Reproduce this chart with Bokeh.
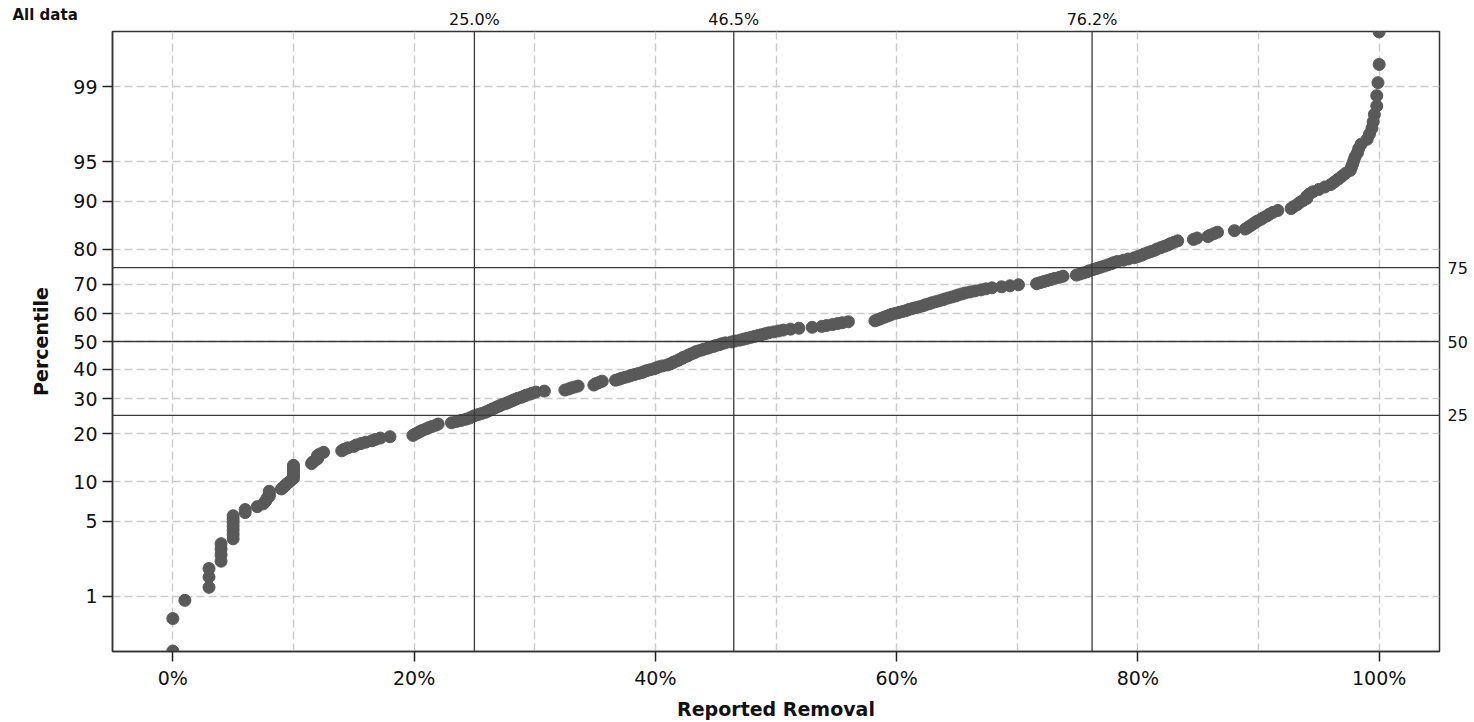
from statistics import NormalDist
from bokeh.plotting import figure
from bokeh.models import Range1d, FixedTicker, LinearAxis, Title, Span, ColumnDataSource
from bokeh.embed import file_html
from bokeh.resources import INLINE

# ---- data (sorted reported removal, %) ----
removal = [
    0, 0, 1, 3, 3, 3, 4, 4, 4, 4,
    5, 5, 5, 5, 5, 5, 5, 6, 6, 7,
    7.5, 7.7, 7.8, 8, 8, 8, 9.0, 9.2, 9.4, 9.6,
    9.8, 10, 10, 10, 10, 10, 10, 10, 10, 11.5,
    11.6, 11.8, 12, 12, 12, 12.2, 12.5, 14.0, 14.2, 14.5,
    15.0, 15.2, 15.6, 16.0, 16.5, 16.8, 17.2, 18.0, 19.9, 20.1,
    20.3, 20.5, 20.7, 21.0, 21.2, 21.5, 21.8, 22.0, 23.1, 23.5,
    23.9, 24.3, 24.6, 24.8, 25.0, 25.3, 25.6, 25.9, 26.1, 26.3,
    26.5, 26.7, 26.9, 27.1, 27.3, 27.6, 27.8, 28.0, 28.2, 28.4,
    28.6, 28.9, 29.1, 29.3, 29.6, 29.8, 30.1, 30.8, 32.5, 32.8,
    33.0, 33.3, 33.6, 34.9, 35.0, 35.2, 35.4, 35.6, 36.7, 37.0,
    37.2, 37.5, 37.8, 38.0, 38.3, 38.6, 38.9, 39.1, 39.3, 39.6,
    39.9, 40.1, 40.3, 40.6, 41.0, 41.2, 41.4, 41.5, 41.7, 41.9,
    42.0, 42.2, 42.3, 42.5, 42.7, 42.8, 43.0, 43.2, 43.3, 43.5,
    43.8, 44.0, 44.3, 44.5, 44.8, 45.0, 45.3, 45.5, 45.8, 46.3,
    46.6, 47.0, 47.3, 47.6, 47.9, 48.2, 48.5, 48.8, 49.1, 49.4,
    49.8, 50.2, 50.6, 51.2, 51.9, 53.0, 53.8, 54.2, 54.7, 55.1,
    55.5, 56.0, 58.2, 58.4, 58.6, 58.8, 59.0, 59.2, 59.4, 59.6,
    59.9, 60.2, 60.5, 60.8, 61.0, 61.3, 61.6, 61.9, 62.2, 62.4,
    62.7, 62.9, 63.2, 63.5, 63.8, 64.0, 64.3, 64.6, 64.9, 65.1,
    65.4, 65.7, 66.1, 66.5, 67.0, 67.4, 67.9, 68.7, 69.4, 70.1,
    71.6, 71.9, 72.2, 72.5, 72.8, 73.1, 73.5, 73.8, 74.9, 75.2,
    75.5, 75.8, 76.0, 76.3, 76.6, 76.9, 77.2, 77.5, 77.8, 78.0,
    78.3, 78.8, 79.2, 79.7, 80.0, 80.3, 80.5, 80.8, 81.1, 81.4,
    81.6, 81.9, 82.2, 82.5, 82.7, 83.0, 83.3, 84.6, 84.9, 85.8,
    86.0, 86.3, 86.6, 88.0, 88.9, 89.1, 89.3, 89.5, 89.7, 89.9,
    90.2, 90.4, 90.7, 90.9, 91.2, 91.6, 92.7, 92.9, 93.2, 93.4,
    93.7, 94.0, 94.0, 94.2, 94.5, 95.0, 95.5, 96.0, 96.3, 96.6,
    96.9, 97.2, 97.6, 97.7, 97.8, 97.9, 98.0, 98.2, 98.3, 98.5,
    99.0, 99.2, 99.4, 99.5, 99.6, 99.8, 99.8, 99.9, 100, 100,
]

y_tick_pcts = [1, 5, 10, 20, 30, 40, 50, 60, 70, 80, 90, 95, 99]
x_tick_pcts = [0, 20, 40, 60, 80, 100]
x_grid_pcts = [0, 10, 20, 30, 40, 50, 60, 70, 80, 90, 100]
ref_pcts = [25, 50, 75]
ref_values = [25.0, 46.5, 76.2]
ref_value_labels = ["25.0%", "46.5%", "76.2%"]
title_text = "All data"
x_label = "Reported Removal"
y_label = "Percentile"

# ---- probability-plot positions (median ranks) ----
nd = NormalDist()
n = len(removal)
plot_pos = [(i - 0.3) / (n + 0.4) for i in range(1, n + 1)]
zvals = [nd.inv_cdf(q) for q in plot_pos]

FONT = "DejaVu Sans"
TXT = "#111111"

p = figure(width=1470, height=722, output_backend="svg", toolbar_location=None,
           x_range=Range1d(-5, 105), y_range=Range1d(zvals[0] - 0.004, zvals[-1] + 0.004),
           min_border_left=112, min_border_right=30, min_border_top=31, min_border_bottom=69)
p.background_fill_color = "white"
p.border_fill_color = "white"
p.outline_line_color = "#333333"
p.outline_line_width = 1.5

# grids
p.xgrid.ticker = FixedTicker(ticks=x_grid_pcts)
p.ygrid.ticker = FixedTicker(ticks=[nd.inv_cdf(t / 100) for t in y_tick_pcts])
for g in (p.xgrid, p.ygrid):
    g.grid_line_color = "#cbcbcb"
    g.grid_line_dash = "8 4"
    g.grid_line_width = 1.4

# left axis
yax = p.yaxis[0]
y_ticks = [nd.inv_cdf(t / 100) for t in y_tick_pcts]
yax.ticker = FixedTicker(ticks=y_ticks)
yax.major_label_overrides = {tk: str(t) for tk, t in zip(y_ticks, y_tick_pcts)}
yax.axis_label = y_label

# bottom axis
xax = p.xaxis[0]
xax.ticker = FixedTicker(ticks=x_tick_pcts)
xax.major_label_overrides = {t: f"{t}%" for t in x_tick_pcts}
xax.axis_label = x_label

for ax in (xax, yax):
    ax.axis_line_color = "#333333"
    ax.axis_line_width = 1.5
    ax.major_tick_line_color = "#222222"
    ax.major_tick_line_width = 1.5
    ax.major_tick_in = 0
    ax.major_tick_out = 10
    ax.minor_tick_line_color = None
    ax.major_label_text_font = FONT
    ax.major_label_text_font_size = "19px"
    ax.major_label_text_color = TXT
    ax.axis_label_text_font = FONT
    ax.axis_label_text_font_style = "bold"
    ax.axis_label_text_font_size = "19px"
    ax.axis_label_text_color = TXT
yax.major_label_standoff = 5
yax.axis_label_standoff = 18
xax.major_label_standoff = 5
xax.axis_label_standoff = 6

# top axis: reference values
top = LinearAxis(ticker=FixedTicker(ticks=ref_values),
                 major_label_overrides={v: s for v, s in zip(ref_values, ref_value_labels)})
# right axis: reference percentiles
ref_z = [nd.inv_cdf(t / 100) for t in ref_pcts]
right = LinearAxis(ticker=FixedTicker(ticks=ref_z),
                   major_label_overrides={zz: str(t) for zz, t in zip(ref_z, ref_pcts)})
for ax in (top, right):
    ax.axis_line_color = None
    ax.major_tick_line_color = None
    ax.minor_tick_line_color = None
    ax.major_tick_out = 0
    ax.major_tick_in = 0
    ax.major_label_standoff = 3
    ax.major_label_text_font = FONT
    ax.major_label_text_font_size = "16px"
    ax.major_label_text_color = TXT
right.major_label_standoff = 8
p.add_layout(top, "above")
p.add_layout(right, "right")

# title placed at the top-left corner
ttl = Title(text=title_text, align="left", offset=-100, standoff=-34,
            text_font=FONT, text_font_style="bold", text_font_size="15px", text_color=TXT)
p.add_layout(ttl, "above")

# reference lines
for v in ref_values:
    p.add_layout(Span(location=v, dimension="height", line_color="#3a3a3a", line_width=1.3))
for zz in ref_z:
    p.add_layout(Span(location=zz, dimension="width", line_color="#3a3a3a", line_width=1.3))

src = ColumnDataSource(dict(x=removal, y=zvals))
p.scatter("x", "y", source=src, size=12, fill_color="#595959", line_color="#595959")

open("out.html", "w").write(file_html(p, INLINE))
